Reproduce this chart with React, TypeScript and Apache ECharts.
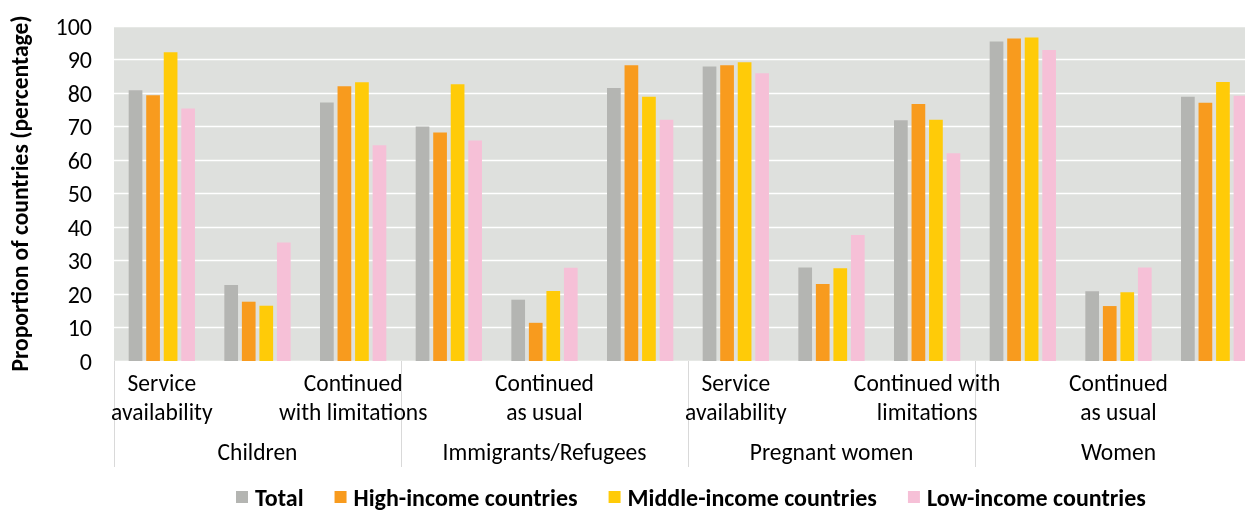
import React, { useEffect, useRef } from "react";
import * as echarts from "echarts";

const categories = [
  "Service\navailability",
  "Continued\nas usual",
  "Continued\nwith limitations",
  "Service\navailability",
  "Continued\nas usual",
  "Continued\nwith limitations",
  "Service\navailability",
  "Continued\nas usual",
  "Continued with\nlimitations",
  "Service\navailability",
  "Continued\nas usual",
  "Continued with\nlimitations",
];
const groups = ["Children", "Immigrants/Refugees", "Pregnant women", "Women"];
const yTicks = [0, 10, 20, 30, 40, 50, 60, 70, 80, 90, 100];

const total = [80.8, 22.7, 77.2, 70.0, 18.3, 81.5, 87.9, 27.9, 71.9, 95.4, 20.8, 78.9];
const highIncome = [79.3, 17.7, 82.0, 68.2, 11.4, 88.3, 88.3, 23.0, 76.7, 96.3, 16.4, 77.1];
const middleIncome = [92.2, 16.5, 83.2, 82.6, 20.9, 78.9, 89.2, 27.7, 72.0, 96.6, 20.5, 83.3];
const lowIncome = [75.4, 35.4, 64.4, 65.8, 27.8, 72.0, 85.9, 37.6, 62.0, 92.8, 27.9, 79.2];

const seriesNames = ["Total", "High-income countries", "Middle-income countries", "Low-income countries"];
const colors = ["#B4B5B2", "#F89B1E", "#FFCB08", "#F6C0D7"];

const FONT = "Carlito, Lato, 'Open Sans', sans-serif";

export default function App() {
  const ref = useRef<HTMLDivElement>(null);
  useEffect(() => {
    if (!ref.current) return;
    const chart = echarts.init(ref.current, undefined, { renderer: "svg" });
    const data = [total, highIncome, middleIncome, lowIncome];
    chart.setOption({
      animation: false,
      textStyle: { fontFamily: FONT },
      grid: {
        left: 113,
        right: 0,
        top: 26,
        bottom: 150,
        show: true,
        backgroundColor: "#DEE0DD",
        borderWidth: 0,
        containLabel: false,
      },
      legend: {
        left: 236,
        top: 484,
        padding: 0,
        icon: "rect",
        itemWidth: 12,
        itemHeight: 12,
        itemGap: 31,
        textStyle: {
          fontFamily: FONT,
          fontWeight: "bold",
          fontSize: 24,
          color: "#000",
          lineHeight: 26,
          padding: [0, 0, 0, 2],
        },
        data: seriesNames,
      },
      xAxis: [
        {
          type: "category",
          data: categories,
          position: "bottom",
          axisLine: { show: false },
          axisTick: { show: false },
          axisLabel: {
            interval: 1,
            margin: 7,
            fontSize: 23.5,
            lineHeight: 29,
            color: "#000",
            fontFamily: FONT,
          },
          splitLine: { show: false },
        },
        {
          type: "category",
          data: groups,
          position: "bottom",
          axisLine: { show: false },
          axisTick: { show: true, length: 106, lineStyle: { color: "#D9D9D9", width: 1 } },
          axisLabel: { margin: 79, fontSize: 23.5, color: "#000", fontFamily: FONT },
          splitLine: { show: false },
        },
      ],
      yAxis: {
        type: "value",
        min: yTicks[0],
        max: yTicks[yTicks.length - 1],
        interval: 10,
        axisLine: { show: false },
        axisTick: { show: false },
        axisLabel: { margin: 22, fontSize: 24, color: "#000", fontFamily: FONT },
        splitLine: { lineStyle: { color: "#FFFFFF", width: 1.3 } },
        name: "Proportion of countries (percentage)",
        nameLocation: "middle",
        nameGap: 82,
        nameTextStyle: { fontSize: 23.5, fontWeight: "bold", color: "#000", fontFamily: FONT },
      },
      series: data.map((d, i) => ({
        name: seriesNames[i],
        type: "bar",
        xAxisIndex: 0,
        data: d,
        barWidth: 13.7,
        barGap: "28%",
        itemStyle: { color: colors[i] },
      })),
    });
    return () => chart.dispose();
  }, []);
  return (
    <div style={{ position: "fixed", left: 0, top: 0, width: 1245, height: 511, overflow: "hidden" }}>
      <div ref={ref} style={{ position: "absolute", left: 0, top: 0, width: 1262, height: 511 }} />
    </div>
  );
}
